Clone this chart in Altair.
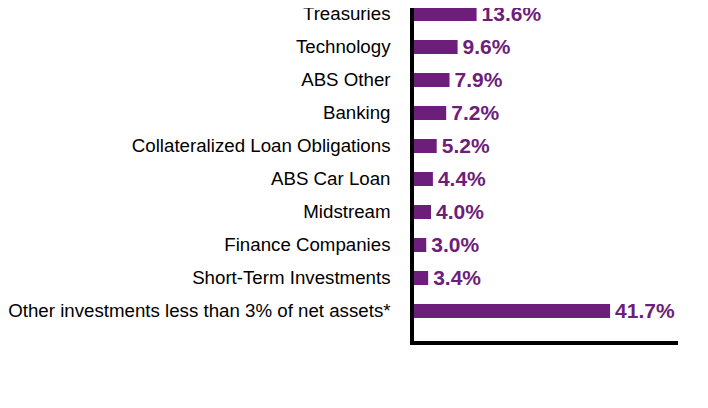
import pandas as pd
import altair as alt

# Sektorfordeling (prosent av netto eiendeler)
sectors = [
    "Treasuries",
    "Technology",
    "ABS Other",
    "Banking",
    "Collateralized Loan Obligations",
    "ABS Car Loan",
    "Midstream",
    "Finance Companies",
    "Short-Term Investments",
    "Other investments less than 3% of net assets*",
]
values = [13.6, 9.6, 7.9, 7.2, 5.2, 4.4, 4.0, 3.0, 3.4, 41.7]

df = pd.DataFrame({"sector": sectors, "value": values})
df["label"] = df["value"].apply(lambda v: f"{v:.1f}%")

purple = "#6D1E7A"
W, H = 266, 326
TOP = 10  # plass over plottet slik at øverste tekst ikke kuttes

# bandskala: step = span / (n - paddingInner) -> 33 px per rad
y_enc = alt.Y(
    "sector:N",
    sort=sectors,
    title=None,
    scale=alt.Scale(range=[-11, 300], paddingInner=0.576, paddingOuter=0),
    axis=alt.Axis(
        domain=False, ticks=False, labelPadding=22, labelFontSize=18.7,
        labelFont="Liberation Sans", labelColor="#000000", labelLimit=420,
    ),
)
x_enc = alt.X("value:Q", title=None, scale=alt.Scale(domain=[0, 56]), axis=None)

base = alt.Chart(df).encode(y=y_enc, x=x_enc)

bars = base.mark_bar(color=purple)
text = base.mark_text(
    align="left", baseline="middle", dx=5, dy=1, font="Liberation Sans",
    fontSize=21, fontWeight="bold", color=purple,
).encode(text="label:N")

# aksestreker
yline = alt.Chart(df).mark_rule(color="#000000", strokeWidth=3.5).encode(
    x=alt.value(0), y=alt.value(-TOP), y2=alt.value(H)
)
xline = alt.Chart(df).mark_rule(color="#000000", strokeWidth=3.5).encode(
    x=alt.value(-1.75), x2=alt.value(W), y=alt.value(H - 1)
)

chart = alt.layer(bars, text, yline, xline).properties(
    width=W, height=H,
    autosize=alt.AutoSizeParams(type="none"),
    padding={"left": 404, "top": TOP, "right": 16, "bottom": 40},
).configure_view(stroke=None)

chart.save("out.html", embed_options={"renderer": "svg", "actions": False})
